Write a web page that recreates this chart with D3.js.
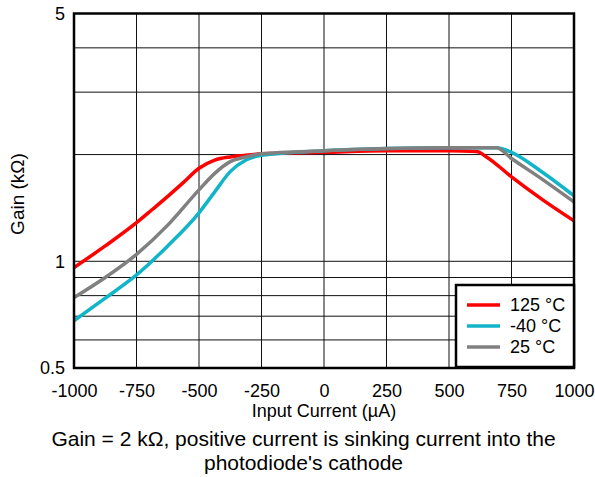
<!DOCTYPE html>
<html>
<head>
<meta charset="utf-8">
<script src="https://cdn.jsdelivr.net/npm/d3@7"></script>
<style>
  body { margin: 0; background: #fff; }
  text { font-family: "Liberation Sans", Arial, sans-serif; fill: #000; }
</style>
</head>
<body>
<div id="container"></div>
<script>
// input current (uA) and gain (kOhm)
var current125 = [-1000, -875, -750, -687, -625, -562, -500, -437, -375, -312, -250, 0, 250, 500, 610, 650, 750, 875, 1000];
var gain125 = [0.96, 1.105, 1.285, 1.40, 1.525, 1.67, 1.83, 1.93, 1.97, 1.99, 2.01, 2.03, 2.05, 2.05, 2.04, 1.97, 1.73, 1.49, 1.30];

var currentM40 = [-1000, -875, -750, -625, -500, -437, -375, -312, -250, 0, 250, 500, 690, 750, 875, 1000];
var gainM40 = [0.68, 0.787, 0.915, 1.105, 1.37, 1.57, 1.79, 1.93, 1.99, 2.05, 2.08, 2.09, 2.09, 2.03, 1.78, 1.53];

var current25 = [-1000, -875, -750, -625, -500, -437, -375, -312, -250, 0, 250, 500, 690, 750, 875, 1000];
var gain25 = [0.79, 0.90, 1.046, 1.265, 1.59, 1.77, 1.91, 1.97, 2.01, 2.05, 2.08, 2.09, 2.09, 1.95, 1.70, 1.47];

var seriesNames = ["125 \u00B0C", "-40 \u00B0C", "25 \u00B0C"];
var seriesColors = ["#ff0000", "#12b5c8", "#808080"];

var xTicks = [-1000, -750, -500, -250, 0, 250, 500, 750, 1000];
var yGrid = [0.6, 0.7, 0.8, 0.9, 1, 2, 3, 4];
var yLabels = [0.5, 1, 5];

var width = 595, height = 477;
var margin = { top: 13.5, right: 21, bottom: 109, left: 74 };

var svg = d3.select("#container").append("svg")
  .attr("width", width)
  .attr("height", height);

var x = d3.scaleLinear().domain([-1000, 1000])
  .range([margin.left, width - margin.right]);
var y = d3.scaleLog().domain([0.5, 5])
  .range([height - margin.bottom, margin.top]);

// grid
svg.append("g")
  .selectAll("line")
  .data(xTicks)
  .enter().append("line")
  .attr("x1", function(d) { return x(d); })
  .attr("x2", function(d) { return x(d); })
  .attr("y1", y(0.5)).attr("y2", y(5))
  .attr("stroke", "#111").attr("stroke-width", 1);

svg.append("g")
  .selectAll("line")
  .data(yGrid)
  .enter().append("line")
  .attr("x1", x(-1000)).attr("x2", x(1000))
  .attr("y1", function(d) { return y(d); })
  .attr("y2", function(d) { return y(d); })
  .attr("stroke", "#111").attr("stroke-width", 1);

// tick labels via d3 axes, domain line hidden
var xAxis = svg.append("g")
  .attr("transform", "translate(0," + y(0.5) + ")")
  .call(d3.axisBottom(x).tickValues(xTicks).tickSize(0).tickPadding(16).tickFormat(function(d) { return String(d); }));
xAxis.select(".domain").remove();
xAxis.selectAll("text").attr("font-size", 18).attr("font-family", "Liberation Sans, Arial, sans-serif");

var yAxis = svg.append("g")
  .attr("transform", "translate(" + x(-1000) + ",0)")
  .call(d3.axisLeft(y).tickValues(yLabels).tickSize(0).tickPadding(9).tickFormat(function(d) { return String(d); }));
yAxis.select(".domain").remove();
yAxis.selectAll("text").attr("font-size", 18).attr("font-family", "Liberation Sans, Arial, sans-serif");

// clip
svg.append("clipPath").attr("id", "clip")
  .append("rect")
  .attr("x", x(-1000)).attr("y", y(5))
  .attr("width", x(1000) - x(-1000))
  .attr("height", y(0.5) - y(5));

var line = d3.line()
  .x(function(d) { return x(d[0]); })
  .y(function(d) { return y(d[1]); })
  .curve(d3.curveMonotoneX);

var series = [
  d3.zip(current125, gain125),
  d3.zip(currentM40, gainM40),
  d3.zip(current25, gain25)
];

svg.append("g").attr("clip-path", "url(#clip)")
  .selectAll("path")
  .data(series)
  .enter().append("path")
  .attr("d", line)
  .attr("fill", "none")
  .attr("stroke", function(d, i) { return seriesColors[i]; })
  .attr("stroke-width", 3.5)
  .attr("stroke-linejoin", "round");

// frame
svg.append("rect")
  .attr("x", x(-1000)).attr("y", y(5))
  .attr("width", x(1000) - x(-1000))
  .attr("height", y(0.5) - y(5))
  .attr("fill", "none")
  .attr("stroke", "#000")
  .attr("stroke-width", 2.5);

// legend
var legend = svg.append("g").attr("transform", "translate(456,285)");
legend.append("rect")
  .attr("width", 118).attr("height", 82)
  .attr("fill", "#fff").attr("stroke", "#000").attr("stroke-width", 2.5);
seriesNames.forEach(function(name, i) {
  var ly = 20 + i * 21;
  legend.append("line")
    .attr("x1", 11).attr("x2", 44)
    .attr("y1", ly).attr("y2", ly)
    .attr("stroke", seriesColors[i]).attr("stroke-width", 3.5);
  legend.append("text")
    .attr("x", 54).attr("y", ly)
    .attr("dy", "0.35em")
    .attr("font-size", 18)
    .text(name);
});

// axis titles
svg.append("text")
  .attr("x", x(0)).attr("y", 416.5)
  .attr("text-anchor", "middle")
  .attr("font-size", 18)
  .text("Input Current (\u00B5A)");

svg.append("text")
  .attr("transform", "translate(24,194) rotate(-90)")
  .attr("text-anchor", "middle")
  .attr("font-size", 19)
  .text("Gain (k\u03A9)");

// caption
svg.append("text")
  .attr("x", 303.5).attr("y", 445.5)
  .attr("text-anchor", "middle")
  .attr("font-size", 21)
  .text("Gain = 2 k\u03A9, positive current is sinking current into the");
svg.append("text")
  .attr("x", 303.5).attr("y", 470)
  .attr("text-anchor", "middle")
  .attr("font-size", 21)
  .text("photodiode's cathode");
</script>
</body>
</html>
